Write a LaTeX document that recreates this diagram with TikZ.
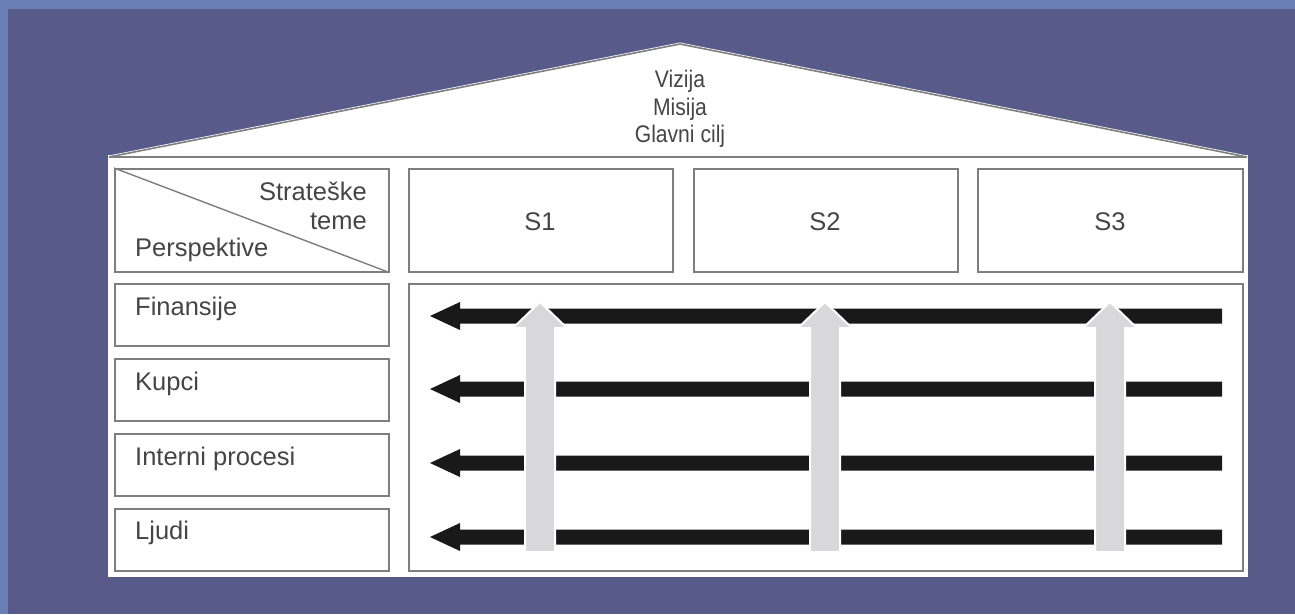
\documentclass[tikz,border=0pt]{standalone}
\usepackage{fontspec}
\setmainfont{Liberation Sans}
\newfontfamily\rooffont[FakeStretch=0.88]{Liberation Sans}
\usetikzlibrary{positioning}
\definecolor{bgdark}{HTML}{585A8A}
\definecolor{bglight}{HTML}{6A7EB6}
\definecolor{boxline}{HTML}{7E7E7E}
\definecolor{txt}{HTML}{454545}
\definecolor{upgray}{HTML}{D8D8DA}
\tikzset{
  cellbox/.style={draw=boxline, line width=1.6pt, fill=white, rectangle, inner sep=0pt, anchor=north west},
  lbl/.style={font=\fontsize{25.5}{28}\selectfont, text=txt, inner sep=0pt},
  rooftxt/.style={font=\rooffont\fontsize{24}{27.5}\selectfont, text=txt, inner sep=0pt, align=center},
  blackarrow/.style={fill=black!90},
  grayarrow/.style={fill=upgray, draw=white, line width=2pt, line join=miter},
}
\begin{document}
\begin{tikzpicture}[x=1pt,y=-1pt]
\useasboundingbox (0,0) rectangle (1295,614);
% background
\fill[bgdark] (0,0) rectangle (1295,614);
\fill[bglight] (0,0) rectangle (1295,9);
\fill[bglight] (0,0) rectangle (8,614);
% house body
\fill[white] (108,155) rectangle (1248,577);
% roof
\coordinate (rl) at (109,157);
\coordinate (rr) at (1247,157);
\coordinate (apex) at (680,44);
\filldraw[fill=white, draw=white, line width=3pt, line join=miter] (rl) -- (apex) -- (rr) -- cycle;
\draw[draw=boxline, line width=1.6pt, line join=miter] (rl) -- (apex) -- (rr) -- cycle;
\node[rooftxt, anchor=base] (vizija) at (680,87) {Vizija};
\node[rooftxt, anchor=base] (misija) at (680,115) {Misija};
\node[rooftxt, anchor=base] (cilj) at (680,142) {Glavni cilj};
% header row
\node[cellbox, minimum width=274pt, minimum height=103pt] (hdr) at (114,168) {};
\draw[boxline, line width=1.4pt] (hdr.north west) -- (hdr.south east);
\node[lbl, anchor=base east] (strat) at (367,200) {Strateške};
\node[lbl, anchor=base east] (teme) at (367,229) {teme};
\node[lbl, anchor=base west] (persp) at (135,256) {Perspektive};
\node[cellbox, minimum width=264pt, minimum height=103pt] (s1) at (408,168) {};
\node[cellbox, minimum width=264pt, minimum height=103pt] (s2) at (693,168) {};
\node[cellbox, minimum width=265pt, minimum height=103pt] (s3) at (977,168) {};
\node[lbl, anchor=base] (s1t) at (540,230) {S1};
\node[lbl, anchor=base] (s2t) at (825,230) {S2};
\node[lbl, anchor=base] (s3t) at (1110,230) {S3};
% perspective rows
\node[cellbox, minimum width=274pt, minimum height=62pt] (fin) at (114,283) {};
\node[cellbox, minimum width=274pt, minimum height=62pt] (kup) at (114,358) {};
\node[cellbox, minimum width=274pt, minimum height=62pt] (int) at (114,433) {};
\node[cellbox, minimum width=274pt, minimum height=62pt] (lju) at (114,508) {};
\node[lbl, anchor=base west] (fint) at (135,315) {Finansije};
\node[lbl, anchor=base west] (kupt) at (135,390) {Kupci};
\node[lbl, anchor=base west] (intt) at (135,465) {Interni procesi};
\node[lbl, anchor=base west] (ljut) at (135,539) {Ljudi};
% main area
\node[cellbox, minimum width=834pt, minimum height=287pt] (area) at (408,283) {};
% black arrows (right to left)
\foreach \yy in {316,389,463,537}{
  \fill[blackarrow] (1222,\yy-7.5) -- (460,\yy-7.5) -- (460,\yy-14) -- (430,\yy)
     -- (460,\yy+14) -- (460,\yy+7.5) -- (1222,\yy+7.5) -- cycle;
}
% gray arrows (bottom to top)
\foreach \xx in {540,825,1110}{
  \filldraw[grayarrow] (\xx-15,552) -- (\xx-15,328) -- (\xx-27,328) -- (\xx,302)
     -- (\xx+27,328) -- (\xx+15,328) -- (\xx+15,552) -- cycle;
}
\end{tikzpicture}
\end{document}
